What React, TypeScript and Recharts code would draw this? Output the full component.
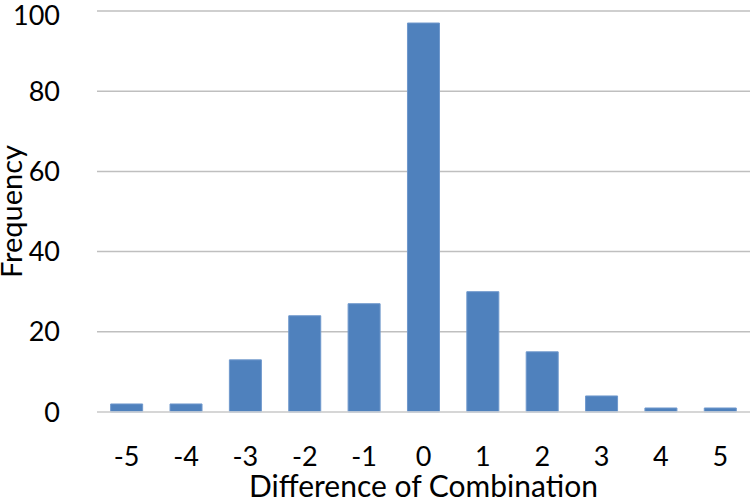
import { BarChart, Bar, XAxis, YAxis, CartesianGrid } from 'recharts';

const differences = ['-5', '-4', '-3', '-2', '-1', '0', '1', '2', '3', '4', '5'];
const frequency = [2, 2, 13, 24, 27, 97, 30, 15, 4, 1, 1];
const yTicks = [0, 20, 40, 60, 80, 100];

const data = differences.map((d, i) => ({ diff: d, freq: frequency[i] }));

const FONT = 'Lato, "Open Sans", sans-serif';

// rotated y-axis title, baseline ~22px in from the left edge like the original
const YTitle = ({ viewBox }: any) => {
  const x = (viewBox?.x ?? 0) + 22;
  const y = (viewBox?.y ?? 0) + (viewBox?.height ?? 0) / 2;
  return (
    <text
      x={x}
      y={y}
      transform={`rotate(-90, ${x}, ${y})`}
      textAnchor="middle"
      fill="#000"
      fontSize={29}
      fontFamily={FONT}
    >
      Frequency
    </text>
  );
};

export default function App() {
  return (
    <div style={{ position: 'absolute', left: 0, top: 0, width: 750, height: 499, background: '#fff' }}>
      <BarChart
        width={750}
        height={499}
        data={data}
        margin={{ top: 11, right: 0, bottom: 0, left: 0 }}
        barCategoryGap="23%"
      >
        <CartesianGrid vertical={false} stroke="#bfbfbf" strokeWidth={1.5} />
        <XAxis
          dataKey="diff"
          height={87}
          tickLine={false}
          tickSize={0}
          tickMargin={35}
          axisLine={{ stroke: '#d9d9d9', strokeWidth: 1.5 }}
          tick={{ fill: '#000', fontSize: 27, fontFamily: FONT }}
          label={{
            value: 'Difference of Combination',
            position: 'insideBottom',
            offset: 2,
            style: { fill: '#000', fontSize: 30, fontFamily: FONT },
          }}
        />
        <YAxis
          width={97}
          domain={[0, 100]}
          ticks={yTicks}
          tickLine={false}
          tickSize={0}
          tickMargin={37}
          axisLine={false}
          tick={{ fill: '#000', fontSize: 27, fontFamily: FONT }}
          label={<YTitle />}
        />
        <Bar dataKey="freq" fill="#4f81bd" stroke="#6f98cc" strokeWidth={1} isAnimationActive={false} />
      </BarChart>
    </div>
  );
}
